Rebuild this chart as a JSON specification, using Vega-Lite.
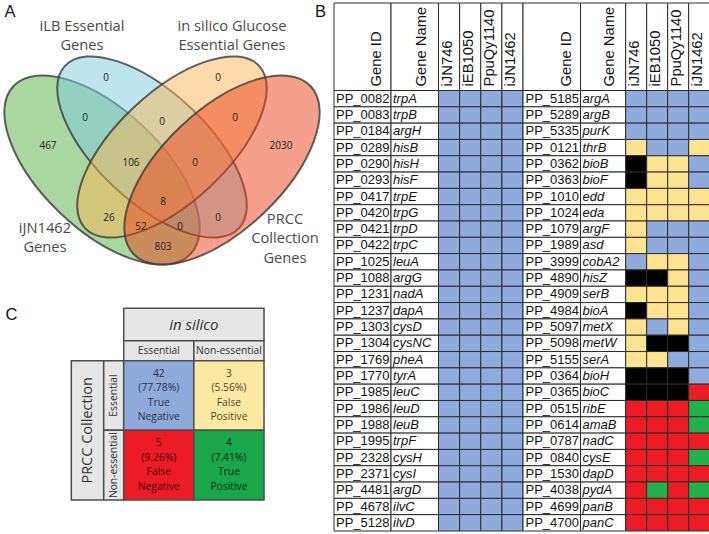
{
"$schema":"https://vega.github.io/schema/vega-lite/v6.json",
"width":709,"height":534,
"autosize":{"type":"fit","contains":"padding"},
"padding":0,
"background":"white",
"config":{"view":{"stroke":null}},
"resolve":{"scale":{"x":"independent","y":"independent","color":"independent"}},
"datasets":{
"venn_sets":[
{"set":"iJN1462 Genes","cx":99,"cy":170},
{"set":"iLB Essential Genes","cx":149,"cy":147},
{"set":"in silico Glucose Essential Genes","cx":169,"cy":147},
{"set":"PRCC Collection Genes","cx":219,"cy":170}
],
"venn_counts":[
{"region":"iJN1462 only","n":467,"lx":45,"ly":146},
{"region":"iLB only","n":0,"lx":103,"ly":78},
{"region":"in silico only","n":0,"lx":215,"ly":78},
{"region":"PRCC only","n":2030,"lx":278,"ly":146},
{"region":"iJN1462+iLB","n":0,"lx":82,"ly":118},
{"region":"iLB+in silico","n":0,"lx":159,"ly":122},
{"region":"in silico+PRCC","n":0,"lx":232,"ly":118},
{"region":"iJN1462+iLB+in silico","n":106,"lx":128,"ly":163},
{"region":"iLB+in silico+PRCC","n":0,"lx":192,"ly":163},
{"region":"all four","n":8,"lx":160,"ly":202},
{"region":"iJN1462+in silico","n":26,"lx":106,"ly":218},
{"region":"iLB+PRCC","n":0,"lx":215,"ly":218},
{"region":"iJN1462+in silico+PRCC","n":52,"lx":138,"ly":227},
{"region":"iJN1462+iLB+PRCC","n":0,"lx":177,"ly":227},
{"region":"iJN1462+PRCC","n":803,"lx":160,"ly":247}
],
"venn_labels":[
{"label":"iLB Essential\nGenes","lx":79,"ly":27},
{"label":"in silico Glucose\nEssential Genes","lx":229,"ly":27},
{"label":"iJN1462\nGenes","lx":42,"ly":229},
{"label":"PRCC\nCollection\nGenes","lx":282,"ly":220}
],
"panel_letters":[
{"letter":"A","px":1.5,"py":16.7},
{"letter":"B","px":312,"py":16.7},
{"letter":"C","px":2.5,"py":320}
],
"header_cells":[
{"half":"L","col":"Gene ID"},{"half":"L","col":"Gene Name"},
{"half":"R","col":"Gene ID"},{"half":"R","col":"Gene Name"}
],
"model_cols":[{"model":"iJN746"},{"model":"iEB1050"},{"model":"PpuQy1140"},{"model":"iJN1462"}],
"genes":[
{"side":"L","row":0,"id":"PP_0082","gene":"trpA","iJN746":"TN","iEB1050":"TN","PpuQy1140":"TN","iJN1462":"TN"},
{"side":"L","row":1,"id":"PP_0083","gene":"trpB","iJN746":"TN","iEB1050":"TN","PpuQy1140":"TN","iJN1462":"TN"},
{"side":"L","row":2,"id":"PP_0184","gene":"argH","iJN746":"TN","iEB1050":"TN","PpuQy1140":"TN","iJN1462":"TN"},
{"side":"L","row":3,"id":"PP_0289","gene":"hisB","iJN746":"TN","iEB1050":"TN","PpuQy1140":"TN","iJN1462":"TN"},
{"side":"L","row":4,"id":"PP_0290","gene":"hisH","iJN746":"TN","iEB1050":"TN","PpuQy1140":"TN","iJN1462":"TN"},
{"side":"L","row":5,"id":"PP_0293","gene":"hisF","iJN746":"TN","iEB1050":"TN","PpuQy1140":"TN","iJN1462":"TN"},
{"side":"L","row":6,"id":"PP_0417","gene":"trpE","iJN746":"TN","iEB1050":"TN","PpuQy1140":"TN","iJN1462":"TN"},
{"side":"L","row":7,"id":"PP_0420","gene":"trpG","iJN746":"TN","iEB1050":"TN","PpuQy1140":"TN","iJN1462":"TN"},
{"side":"L","row":8,"id":"PP_0421","gene":"trpD","iJN746":"TN","iEB1050":"TN","PpuQy1140":"TN","iJN1462":"TN"},
{"side":"L","row":9,"id":"PP_0422","gene":"trpC","iJN746":"TN","iEB1050":"TN","PpuQy1140":"TN","iJN1462":"TN"},
{"side":"L","row":10,"id":"PP_1025","gene":"leuA","iJN746":"TN","iEB1050":"TN","PpuQy1140":"TN","iJN1462":"TN"},
{"side":"L","row":11,"id":"PP_1088","gene":"argG","iJN746":"TN","iEB1050":"TN","PpuQy1140":"TN","iJN1462":"TN"},
{"side":"L","row":12,"id":"PP_1231","gene":"nadA","iJN746":"TN","iEB1050":"TN","PpuQy1140":"TN","iJN1462":"TN"},
{"side":"L","row":13,"id":"PP_1237","gene":"dapA","iJN746":"TN","iEB1050":"TN","PpuQy1140":"TN","iJN1462":"TN"},
{"side":"L","row":14,"id":"PP_1303","gene":"cysD","iJN746":"TN","iEB1050":"TN","PpuQy1140":"TN","iJN1462":"TN"},
{"side":"L","row":15,"id":"PP_1304","gene":"cysNC","iJN746":"TN","iEB1050":"TN","PpuQy1140":"TN","iJN1462":"TN"},
{"side":"L","row":16,"id":"PP_1769","gene":"pheA","iJN746":"TN","iEB1050":"TN","PpuQy1140":"TN","iJN1462":"TN"},
{"side":"L","row":17,"id":"PP_1770","gene":"tyrA","iJN746":"TN","iEB1050":"TN","PpuQy1140":"TN","iJN1462":"TN"},
{"side":"L","row":18,"id":"PP_1985","gene":"leuC","iJN746":"TN","iEB1050":"TN","PpuQy1140":"TN","iJN1462":"TN"},
{"side":"L","row":19,"id":"PP_1986","gene":"leuD","iJN746":"TN","iEB1050":"TN","PpuQy1140":"TN","iJN1462":"TN"},
{"side":"L","row":20,"id":"PP_1988","gene":"leuB","iJN746":"TN","iEB1050":"TN","PpuQy1140":"TN","iJN1462":"TN"},
{"side":"L","row":21,"id":"PP_1995","gene":"trpF","iJN746":"TN","iEB1050":"TN","PpuQy1140":"TN","iJN1462":"TN"},
{"side":"L","row":22,"id":"PP_2328","gene":"cysH","iJN746":"TN","iEB1050":"TN","PpuQy1140":"TN","iJN1462":"TN"},
{"side":"L","row":23,"id":"PP_2371","gene":"cysI","iJN746":"TN","iEB1050":"TN","PpuQy1140":"TN","iJN1462":"TN"},
{"side":"L","row":24,"id":"PP_4481","gene":"argD","iJN746":"TN","iEB1050":"TN","PpuQy1140":"TN","iJN1462":"TN"},
{"side":"L","row":25,"id":"PP_4678","gene":"ilvC","iJN746":"TN","iEB1050":"TN","PpuQy1140":"TN","iJN1462":"TN"},
{"side":"L","row":26,"id":"PP_5128","gene":"ilvD","iJN746":"TN","iEB1050":"TN","PpuQy1140":"TN","iJN1462":"TN"},
{"side":"R","row":0,"id":"PP_5185","gene":"argA","iJN746":"TN","iEB1050":"TN","PpuQy1140":"TN","iJN1462":"TN"},
{"side":"R","row":1,"id":"PP_5289","gene":"argB","iJN746":"TN","iEB1050":"TN","PpuQy1140":"TN","iJN1462":"TN"},
{"side":"R","row":2,"id":"PP_5335","gene":"purK","iJN746":"TN","iEB1050":"TN","PpuQy1140":"TN","iJN1462":"TN"},
{"side":"R","row":3,"id":"PP_0121","gene":"thrB","iJN746":"FP","iEB1050":"TN","PpuQy1140":"TN","iJN1462":"FP"},
{"side":"R","row":4,"id":"PP_0362","gene":"bioB","iJN746":"NA","iEB1050":"FP","PpuQy1140":"FP","iJN1462":"TN"},
{"side":"R","row":5,"id":"PP_0363","gene":"bioF","iJN746":"NA","iEB1050":"FP","PpuQy1140":"FP","iJN1462":"TN"},
{"side":"R","row":6,"id":"PP_1010","gene":"edd","iJN746":"FP","iEB1050":"FP","PpuQy1140":"FP","iJN1462":"FP"},
{"side":"R","row":7,"id":"PP_1024","gene":"eda","iJN746":"FP","iEB1050":"FP","PpuQy1140":"FP","iJN1462":"FP"},
{"side":"R","row":8,"id":"PP_1079","gene":"argF","iJN746":"FP","iEB1050":"TN","PpuQy1140":"TN","iJN1462":"TN"},
{"side":"R","row":9,"id":"PP_1989","gene":"asd","iJN746":"FP","iEB1050":"TN","PpuQy1140":"TN","iJN1462":"TN"},
{"side":"R","row":10,"id":"PP_3999","gene":"cobA2","iJN746":"TN","iEB1050":"FP","PpuQy1140":"FP","iJN1462":"TN"},
{"side":"R","row":11,"id":"PP_4890","gene":"hisZ","iJN746":"NA","iEB1050":"NA","PpuQy1140":"FP","iJN1462":"TN"},
{"side":"R","row":12,"id":"PP_4909","gene":"serB","iJN746":"FP","iEB1050":"FP","PpuQy1140":"FP","iJN1462":"TN"},
{"side":"R","row":13,"id":"PP_4984","gene":"bioA","iJN746":"NA","iEB1050":"FP","PpuQy1140":"FP","iJN1462":"TN"},
{"side":"R","row":14,"id":"PP_5097","gene":"metX","iJN746":"FP","iEB1050":"TN","PpuQy1140":"FP","iJN1462":"TN"},
{"side":"R","row":15,"id":"PP_5098","gene":"metW","iJN746":"FP","iEB1050":"NA","PpuQy1140":"NA","iJN1462":"TN"},
{"side":"R","row":16,"id":"PP_5155","gene":"serA","iJN746":"FP","iEB1050":"FP","PpuQy1140":"TN","iJN1462":"TN"},
{"side":"R","row":17,"id":"PP_0364","gene":"bioH","iJN746":"NA","iEB1050":"NA","PpuQy1140":"NA","iJN1462":"TN"},
{"side":"R","row":18,"id":"PP_0365","gene":"bioC","iJN746":"NA","iEB1050":"NA","PpuQy1140":"NA","iJN1462":"FN"},
{"side":"R","row":19,"id":"PP_0515","gene":"ribE","iJN746":"FN","iEB1050":"FN","PpuQy1140":"FN","iJN1462":"TP"},
{"side":"R","row":20,"id":"PP_0614","gene":"amaB","iJN746":"FN","iEB1050":"FN","PpuQy1140":"FN","iJN1462":"TP"},
{"side":"R","row":21,"id":"PP_0787","gene":"nadC","iJN746":"FN","iEB1050":"FN","PpuQy1140":"FN","iJN1462":"FN"},
{"side":"R","row":22,"id":"PP_0840","gene":"cysE","iJN746":"FN","iEB1050":"FN","PpuQy1140":"FN","iJN1462":"TP"},
{"side":"R","row":23,"id":"PP_1530","gene":"dapD","iJN746":"FN","iEB1050":"FN","PpuQy1140":"FN","iJN1462":"FN"},
{"side":"R","row":24,"id":"PP_4038","gene":"pydA","iJN746":"FN","iEB1050":"TP","PpuQy1140":"FN","iJN1462":"TP"},
{"side":"R","row":25,"id":"PP_4699","gene":"panB","iJN746":"FN","iEB1050":"FN","PpuQy1140":"FN","iJN1462":"FN"},
{"side":"R","row":26,"id":"PP_4700","gene":"panC","iJN746":"FN","iEB1050":"FN","PpuQy1140":"FN","iJN1462":"FN"}
],
"insilico_cols":[{"insilico":"Essential"},{"insilico":"Non-essential"}],
"prcc_rows":[{"prcc":"Essential"},{"prcc":"Non-essential"}],
"confusion":[
{"prcc":"Essential","insilico":"Essential","count":42,"pct":"(77.78%)","call":"True Negative","label":"42 (77.78%) True Negative"},
{"prcc":"Essential","insilico":"Non-essential","count":3,"pct":"(5.56%)","call":"False Positive","label":"3 (5.56%) False Positive"},
{"prcc":"Non-essential","insilico":"Essential","count":5,"pct":"(9.26%)","call":"False Negative","label":"5 (9.26%) False Negative"},
{"prcc":"Non-essential","insilico":"Non-essential","count":4,"pct":"(7.41%)","call":"True Positive","label":"4 (7.41%) True Positive"}
]
},
"layer":[
{"data":{"name":"venn_sets"},"transform":[{"filter":"datum.set === 'iJN1462 Genes'"}],
 "mark":{"type":"point","shape":"M1 0C1 0.2716 0.5523 0.4918 0 0.4918C-0.5523 0.4918 -1 0.2716 -1 0C-1 -0.2716 -0.5523 -0.4918 0 -0.4918C0.5523 -0.4918 1 -0.2716 1 0Z","size":59536,"angle":43.5,"filled":true,"fill":"#55af41","fillOpacity":0.5,"stroke":"#3a3a3a","strokeOpacity":0.8,"strokeWidth":2,"opacity":1},
 "encoding":{"x":{"field":"cx","type":"quantitative","scale":{"domain":[0,709],"range":[0,709]},"axis":null},"y":{"field":"cy","type":"quantitative","scale":{"domain":[0,534],"range":[0,534]},"axis":null}}},
{"data":{"name":"venn_sets"},"transform":[{"filter":"datum.set === 'iLB Essential Genes'"}],
 "mark":{"type":"point","shape":"M1 0C1 0.2553 0.5523 0.4622 0 0.4622C-0.5523 0.4622 -1 0.2553 -1 0C-1 -0.2553 -0.5523 -0.4622 0 -0.4622C0.5523 -0.4622 1 -0.2553 1 0Z","size":56644,"angle":43,"filled":true,"fill":"#7dc9dd","fillOpacity":0.5,"stroke":"#3a3a3a","strokeOpacity":0.8,"strokeWidth":2,"opacity":1},
 "encoding":{"x":{"field":"cx","type":"quantitative","scale":{"domain":[0,709],"range":[0,709]},"axis":null},"y":{"field":"cy","type":"quantitative","scale":{"domain":[0,534],"range":[0,534]},"axis":null}}},
{"data":{"name":"venn_sets"},"transform":[{"filter":"datum.set === 'in silico Glucose Essential Genes'"}],
 "mark":{"type":"point","shape":"M1 0C1 0.2553 0.5523 0.4622 0 0.4622C-0.5523 0.4622 -1 0.2553 -1 0C-1 -0.2553 -0.5523 -0.4622 0 -0.4622C0.5523 -0.4622 1 -0.2553 1 0Z","size":56644,"angle":-43,"filled":true,"fill":"#fbb555","fillOpacity":0.5,"stroke":"#3a3a3a","strokeOpacity":0.8,"strokeWidth":2,"opacity":1},
 "encoding":{"x":{"field":"cx","type":"quantitative","scale":{"domain":[0,709],"range":[0,709]},"axis":null},"y":{"field":"cy","type":"quantitative","scale":{"domain":[0,534],"range":[0,534]},"axis":null}}},
{"data":{"name":"venn_sets"},"transform":[{"filter":"datum.set === 'PRCC Collection Genes'"}],
 "mark":{"type":"point","shape":"M1 0C1 0.2716 0.5523 0.4918 0 0.4918C-0.5523 0.4918 -1 0.2716 -1 0C-1 -0.2716 -0.5523 -0.4918 0 -0.4918C0.5523 -0.4918 1 -0.2716 1 0Z","size":59536,"angle":-43.5,"filled":true,"fill":"#eb4119","fillOpacity":0.5,"stroke":"#3a3a3a","strokeOpacity":0.8,"strokeWidth":2,"opacity":1},
 "encoding":{"x":{"field":"cx","type":"quantitative","scale":{"domain":[0,709],"range":[0,709]},"axis":null},"y":{"field":"cy","type":"quantitative","scale":{"domain":[0,534],"range":[0,534]},"axis":null}}},
{"data":{"name":"venn_counts"},
 "mark":{"type":"text","font":"Open Sans","fontSize":10,"color":"#222222","align":"center","baseline":"middle"},
 "encoding":{"x":{"field":"lx","type":"quantitative","scale":{"domain":[0,709],"range":[0,709]},"axis":null},"y":{"field":"ly","type":"quantitative","scale":{"domain":[0,534],"range":[0,534]},"axis":null},"text":{"field":"n","type":"quantitative","format":"d"}}},
{"data":{"name":"venn_labels"},
 "mark":{"type":"text","font":"Open Sans","fontSize":14.7,"lineHeight":19.3,"lineBreak":"\n","color":"#4a4a4a","align":"center","baseline":"middle"},
 "encoding":{"x":{"field":"lx","type":"quantitative","scale":{"domain":[0,709],"range":[0,709]},"axis":null},"y":{"field":"ly","type":"quantitative","scale":{"domain":[0,534],"range":[0,534]},"axis":null},"text":{"field":"label","type":"nominal"}}},
{"data":{"name":"panel_letters"},
 "mark":{"type":"text","font":"Liberation Sans","fontSize":16.5,"color":"#111111","align":"left","baseline":"alphabetic"},
 "encoding":{"x":{"field":"px","type":"quantitative","scale":{"domain":[0,709],"range":[0,709]},"axis":null},"y":{"field":"py","type":"quantitative","scale":{"domain":[0,534],"range":[0,534]},"axis":null},"text":{"field":"letter","type":"nominal"}}},

{"data":{"name":"genes"},"transform":[{"filter":"datum.side === 'L'"}],
 "encoding":{"x":{"datum":"Gene ID","type":"nominal","scale":{"type":"band","domain":["Gene ID"],"range":[331,388],"paddingInner":0,"paddingOuter":0},"axis":null},
  "y":{"field":"row","type":"ordinal","scale":{"type":"band","domain":[0,1,2,3,4,5,6,7,8,9,10,11,12,13,14,15,16,17,18,19,20,21,22,23,24,25,26],"range":[90.5,531],"paddingInner":0,"paddingOuter":0},"axis":null}},
 "layer":[
  {"mark":{"type":"rect","fill":"white","stroke":"#2b2b2b","strokeWidth":1}},
  {"mark":{"type":"text","align":"left","baseline":"middle","dx":2,"font":"Liberation Sans","fontSize":13,"color":"#111111"},
   "encoding":{"x":{"datum":"Gene ID","type":"nominal","bandPosition":0,"scale":{"type":"band","domain":["Gene ID"],"range":[331,388],"paddingInner":0,"paddingOuter":0},"axis":null},"text":{"field":"id","type":"nominal"}}}
 ]},
{"data":{"name":"genes"},"transform":[{"filter":"datum.side === 'L'"}],
 "encoding":{"x":{"datum":"Gene Name","type":"nominal","scale":{"type":"band","domain":["Gene Name"],"range":[388,435.5],"paddingInner":0,"paddingOuter":0},"axis":null},
  "y":{"field":"row","type":"ordinal","scale":{"type":"band","domain":[0,1,2,3,4,5,6,7,8,9,10,11,12,13,14,15,16,17,18,19,20,21,22,23,24,25,26],"range":[90.5,531],"paddingInner":0,"paddingOuter":0},"axis":null}},
 "layer":[
  {"mark":{"type":"rect","fill":"white","stroke":"#2b2b2b","strokeWidth":1}},
  {"mark":{"type":"text","align":"left","baseline":"middle","dx":2,"font":"Liberation Sans","fontSize":13,"fontStyle":"italic","color":"#111111"},
   "encoding":{"x":{"datum":"Gene Name","type":"nominal","bandPosition":0,"scale":{"type":"band","domain":["Gene Name"],"range":[388,435.5],"paddingInner":0,"paddingOuter":0},"axis":null},"text":{"field":"gene","type":"nominal"}}}
 ]},
{"data":{"name":"genes"},"transform":[{"filter":"datum.side === 'L'"},{"fold":["iJN746","iEB1050","PpuQy1140","iJN1462"],"as":["model","status"]}],
 "mark":{"type":"rect","stroke":"#2b2b2b","strokeWidth":1},
 "encoding":{"x":{"field":"model","type":"nominal","scale":{"type":"band","domain":["iJN746","iEB1050","PpuQy1140","iJN1462"],"range":[435.5,520],"paddingInner":0,"paddingOuter":0},"axis":null},
  "y":{"field":"row","type":"ordinal","scale":{"type":"band","domain":[0,1,2,3,4,5,6,7,8,9,10,11,12,13,14,15,16,17,18,19,20,21,22,23,24,25,26],"range":[90.5,531],"paddingInner":0,"paddingOuter":0},"axis":null},
  "color":{"field":"status","type":"nominal","scale":{"domain":["TN","FP","FN","TP","NA"],"range":["#8faadc","#fee391","#ed1c24","#22b14c","#000000"]},"legend":null}}},

{"data":{"name":"genes"},"transform":[{"filter":"datum.side === 'R'"}],
 "encoding":{"x":{"datum":"Gene ID","type":"nominal","scale":{"type":"band","domain":["Gene ID"],"range":[520,577.5],"paddingInner":0,"paddingOuter":0},"axis":null},
  "y":{"field":"row","type":"ordinal","scale":{"type":"band","domain":[0,1,2,3,4,5,6,7,8,9,10,11,12,13,14,15,16,17,18,19,20,21,22,23,24,25,26],"range":[90.5,531],"paddingInner":0,"paddingOuter":0},"axis":null}},
 "layer":[
  {"mark":{"type":"rect","fill":"white","stroke":"#2b2b2b","strokeWidth":1}},
  {"mark":{"type":"text","align":"left","baseline":"middle","dx":2.5,"font":"Liberation Sans","fontSize":13,"color":"#111111"},
   "encoding":{"x":{"datum":"Gene ID","type":"nominal","bandPosition":0,"scale":{"type":"band","domain":["Gene ID"],"range":[520,577.5],"paddingInner":0,"paddingOuter":0},"axis":null},"text":{"field":"id","type":"nominal"}}}
 ]},
{"data":{"name":"genes"},"transform":[{"filter":"datum.side === 'R'"}],
 "encoding":{"x":{"datum":"Gene Name","type":"nominal","scale":{"type":"band","domain":["Gene Name"],"range":[577.5,622.7],"paddingInner":0,"paddingOuter":0},"axis":null},
  "y":{"field":"row","type":"ordinal","scale":{"type":"band","domain":[0,1,2,3,4,5,6,7,8,9,10,11,12,13,14,15,16,17,18,19,20,21,22,23,24,25,26],"range":[90.5,531],"paddingInner":0,"paddingOuter":0},"axis":null}},
 "layer":[
  {"mark":{"type":"rect","fill":"white","stroke":"#2b2b2b","strokeWidth":1}},
  {"mark":{"type":"text","align":"left","baseline":"middle","dx":2,"font":"Liberation Sans","fontSize":13,"fontStyle":"italic","color":"#111111"},
   "encoding":{"x":{"datum":"Gene Name","type":"nominal","bandPosition":0,"scale":{"type":"band","domain":["Gene Name"],"range":[577.5,622.7],"paddingInner":0,"paddingOuter":0},"axis":null},"text":{"field":"gene","type":"nominal"}}}
 ]},
{"data":{"name":"genes"},"transform":[{"filter":"datum.side === 'R'"},{"fold":["iJN746","iEB1050","PpuQy1140","iJN1462"],"as":["model","status"]}],
 "mark":{"type":"rect","stroke":"#2b2b2b","strokeWidth":1},
 "encoding":{"x":{"field":"model","type":"nominal","scale":{"type":"band","domain":["iJN746","iEB1050","PpuQy1140","iJN1462"],"range":[622.7,706.7],"paddingInner":0,"paddingOuter":0},"axis":null},
  "y":{"field":"row","type":"ordinal","scale":{"type":"band","domain":[0,1,2,3,4,5,6,7,8,9,10,11,12,13,14,15,16,17,18,19,20,21,22,23,24,25,26],"range":[90.5,531],"paddingInner":0,"paddingOuter":0},"axis":null},
  "color":{"field":"status","type":"nominal","scale":{"domain":["TN","FP","FN","TP","NA"],"range":["#8faadc","#fee391","#ed1c24","#22b14c","#000000"]},"legend":null}}},

{"data":{"name":"header_cells"},"transform":[{"filter":"datum.half === 'L' && datum.col === 'Gene ID'"}],
 "encoding":{"x":{"datum":"Gene ID","type":"nominal","scale":{"type":"band","domain":["Gene ID"],"range":[331,388],"paddingInner":0,"paddingOuter":0},"axis":null},
  "y":{"datum":"header","type":"nominal","scale":{"type":"band","domain":["header"],"range":[3,90.5],"paddingInner":0,"paddingOuter":0},"axis":null}},
 "layer":[
  {"mark":{"type":"rect","fill":"white","stroke":"#2b2b2b","strokeWidth":1}},
  {"mark":{"type":"text","angle":270,"align":"left","baseline":"middle","font":"Liberation Sans","fontSize":14.8,"color":"#111111"},
   "encoding":{"x":{"datum":"Gene ID","type":"nominal","bandPosition":0.76,"scale":{"type":"band","domain":["Gene ID"],"range":[331,388],"paddingInner":0,"paddingOuter":0},"axis":null},
    "y":{"datum":"header","type":"nominal","bandPosition":0.954,"scale":{"type":"band","domain":["header"],"range":[3,90.5],"paddingInner":0,"paddingOuter":0},"axis":null},
    "text":{"field":"col","type":"nominal"}}}
 ]},
{"data":{"name":"header_cells"},"transform":[{"filter":"datum.half === 'L' && datum.col === 'Gene Name'"}],
 "encoding":{"x":{"datum":"Gene Name","type":"nominal","scale":{"type":"band","domain":["Gene Name"],"range":[388,435.5],"paddingInner":0,"paddingOuter":0},"axis":null},
  "y":{"datum":"header","type":"nominal","scale":{"type":"band","domain":["header"],"range":[3,90.5],"paddingInner":0,"paddingOuter":0},"axis":null}},
 "layer":[
  {"mark":{"type":"rect","fill":"white","stroke":"#2b2b2b","strokeWidth":1}},
  {"mark":{"type":"text","angle":270,"align":"left","baseline":"middle","font":"Liberation Sans","fontSize":14.8,"color":"#111111"},
   "encoding":{"x":{"datum":"Gene Name","type":"nominal","bandPosition":0.65,"scale":{"type":"band","domain":["Gene Name"],"range":[388,435.5],"paddingInner":0,"paddingOuter":0},"axis":null},
    "y":{"datum":"header","type":"nominal","bandPosition":0.954,"scale":{"type":"band","domain":["header"],"range":[3,90.5],"paddingInner":0,"paddingOuter":0},"axis":null},
    "text":{"field":"col","type":"nominal"}}}
 ]},
{"data":{"name":"model_cols"},
 "encoding":{"x":{"field":"model","type":"nominal","scale":{"type":"band","domain":["iJN746","iEB1050","PpuQy1140","iJN1462"],"range":[435.5,520],"paddingInner":0,"paddingOuter":0},"axis":null},
  "y":{"datum":"header","type":"nominal","scale":{"type":"band","domain":["header"],"range":[3,90.5],"paddingInner":0,"paddingOuter":0},"axis":null}},
 "layer":[
  {"mark":{"type":"rect","fill":"white","stroke":"#2b2b2b","strokeWidth":1}},
  {"mark":{"type":"text","angle":270,"align":"left","baseline":"middle","font":"Liberation Sans","fontSize":14.8,"color":"#111111"},
   "encoding":{"x":{"field":"model","type":"nominal","bandPosition":0.43,"scale":{"type":"band","domain":["iJN746","iEB1050","PpuQy1140","iJN1462"],"range":[435.5,520],"paddingInner":0,"paddingOuter":0},"axis":null},
    "y":{"datum":"header","type":"nominal","bandPosition":0.954,"scale":{"type":"band","domain":["header"],"range":[3,90.5],"paddingInner":0,"paddingOuter":0},"axis":null},
    "text":{"field":"model","type":"nominal"}}}
 ]},
{"data":{"name":"header_cells"},"transform":[{"filter":"datum.half === 'R' && datum.col === 'Gene ID'"}],
 "encoding":{"x":{"datum":"Gene ID","type":"nominal","scale":{"type":"band","domain":["Gene ID"],"range":[520,577.5],"paddingInner":0,"paddingOuter":0},"axis":null},
  "y":{"datum":"header","type":"nominal","scale":{"type":"band","domain":["header"],"range":[3,90.5],"paddingInner":0,"paddingOuter":0},"axis":null}},
 "layer":[
  {"mark":{"type":"rect","fill":"white","stroke":"#2b2b2b","strokeWidth":1}},
  {"mark":{"type":"text","angle":270,"align":"left","baseline":"middle","font":"Liberation Sans","fontSize":14.8,"color":"#111111"},
   "encoding":{"x":{"datum":"Gene ID","type":"nominal","bandPosition":0.76,"scale":{"type":"band","domain":["Gene ID"],"range":[520,577.5],"paddingInner":0,"paddingOuter":0},"axis":null},
    "y":{"datum":"header","type":"nominal","bandPosition":0.954,"scale":{"type":"band","domain":["header"],"range":[3,90.5],"paddingInner":0,"paddingOuter":0},"axis":null},
    "text":{"field":"col","type":"nominal"}}}
 ]},
{"data":{"name":"header_cells"},"transform":[{"filter":"datum.half === 'R' && datum.col === 'Gene Name'"}],
 "encoding":{"x":{"datum":"Gene Name","type":"nominal","scale":{"type":"band","domain":["Gene Name"],"range":[577.5,622.7],"paddingInner":0,"paddingOuter":0},"axis":null},
  "y":{"datum":"header","type":"nominal","scale":{"type":"band","domain":["header"],"range":[3,90.5],"paddingInner":0,"paddingOuter":0},"axis":null}},
 "layer":[
  {"mark":{"type":"rect","fill":"white","stroke":"#2b2b2b","strokeWidth":1}},
  {"mark":{"type":"text","angle":270,"align":"left","baseline":"middle","font":"Liberation Sans","fontSize":14.8,"color":"#111111"},
   "encoding":{"x":{"datum":"Gene Name","type":"nominal","bandPosition":0.65,"scale":{"type":"band","domain":["Gene Name"],"range":[577.5,622.7],"paddingInner":0,"paddingOuter":0},"axis":null},
    "y":{"datum":"header","type":"nominal","bandPosition":0.954,"scale":{"type":"band","domain":["header"],"range":[3,90.5],"paddingInner":0,"paddingOuter":0},"axis":null},
    "text":{"field":"col","type":"nominal"}}}
 ]},
{"data":{"name":"model_cols"},
 "encoding":{"x":{"field":"model","type":"nominal","scale":{"type":"band","domain":["iJN746","iEB1050","PpuQy1140","iJN1462"],"range":[622.7,706.7],"paddingInner":0,"paddingOuter":0},"axis":null},
  "y":{"datum":"header","type":"nominal","scale":{"type":"band","domain":["header"],"range":[3,90.5],"paddingInner":0,"paddingOuter":0},"axis":null}},
 "layer":[
  {"mark":{"type":"rect","fill":"white","stroke":"#2b2b2b","strokeWidth":1}},
  {"mark":{"type":"text","angle":270,"align":"left","baseline":"middle","font":"Liberation Sans","fontSize":14.8,"color":"#111111"},
   "encoding":{"x":{"field":"model","type":"nominal","bandPosition":0.43,"scale":{"type":"band","domain":["iJN746","iEB1050","PpuQy1140","iJN1462"],"range":[622.7,706.7],"paddingInner":0,"paddingOuter":0},"axis":null},
    "y":{"datum":"header","type":"nominal","bandPosition":0.954,"scale":{"type":"band","domain":["header"],"range":[3,90.5],"paddingInner":0,"paddingOuter":0},"axis":null},
    "text":{"field":"model","type":"nominal"}}}
 ]},

{"data":{"values":[{"title":"in silico"}]},
 "encoding":{"x":{"datum":"in silico","type":"nominal","scale":{"type":"band","domain":["in silico"],"range":[120.7,261],"paddingInner":0,"paddingOuter":0},"axis":null},
  "y":{"datum":"in silico","type":"nominal","scale":{"type":"band","domain":["in silico"],"range":[308.3,340.7],"paddingInner":0,"paddingOuter":0},"axis":null}},
 "layer":[
  {"mark":{"type":"rect","fill":"#e6e6e6","stroke":"#4d4d4d","strokeWidth":1.5}},
  {"mark":{"type":"text","font":"Open Sans","fontSize":15,"fontStyle":"italic","color":"#333333","align":"center","baseline":"middle"},"encoding":{"text":{"field":"title","type":"nominal"}}}
 ]},
{"data":{"name":"insilico_cols"},
 "encoding":{"x":{"field":"insilico","type":"nominal","scale":{"type":"band","domain":["Essential","Non-essential"],"range":[120.7,261],"paddingInner":0,"paddingOuter":0},"axis":null},
  "y":{"datum":"sub","type":"nominal","scale":{"type":"band","domain":["sub"],"range":[340.7,360.7],"paddingInner":0,"paddingOuter":0},"axis":null}},
 "layer":[
  {"mark":{"type":"rect","fill":"#e6e6e6","stroke":"#4d4d4d","strokeWidth":1.5}},
  {"mark":{"type":"text","font":"Open Sans","fontSize":10.3,"color":"#333333","align":"center","baseline":"middle"},"encoding":{"text":{"field":"insilico","type":"nominal"}}}
 ]},
{"data":{"values":[{"title":"PRCC Collection"}]},
 "encoding":{"x":{"datum":"PRCC Collection","type":"nominal","scale":{"type":"band","domain":["PRCC Collection"],"range":[68.3,100.7],"paddingInner":0,"paddingOuter":0},"axis":null},
  "y":{"datum":"PRCC Collection","type":"nominal","scale":{"type":"band","domain":["PRCC Collection"],"range":[360.7,500],"paddingInner":0,"paddingOuter":0},"axis":null}},
 "layer":[
  {"mark":{"type":"rect","fill":"#e6e6e6","stroke":"#4d4d4d","strokeWidth":1.5}},
  {"mark":{"type":"text","font":"Open Sans","fontSize":14.5,"angle":270,"color":"#333333","align":"center","baseline":"middle"},"encoding":{"text":{"field":"title","type":"nominal"}}}
 ]},
{"data":{"name":"prcc_rows"},
 "encoding":{"x":{"datum":"label","type":"nominal","scale":{"type":"band","domain":["label"],"range":[100.7,120.7],"paddingInner":0,"paddingOuter":0},"axis":null},
  "y":{"field":"prcc","type":"nominal","scale":{"type":"band","domain":["Essential","Non-essential"],"range":[360.7,500],"paddingInner":0,"paddingOuter":0},"axis":null}},
 "layer":[
  {"mark":{"type":"rect","fill":"#e6e6e6","stroke":"#4d4d4d","strokeWidth":1.5}},
  {"mark":{"type":"text","font":"Open Sans","fontSize":10.3,"angle":270,"color":"#333333","align":"center","baseline":"middle"},"encoding":{"text":{"field":"prcc","type":"nominal"}}}
 ]},
{"data":{"name":"confusion"},
 "encoding":{"x":{"field":"insilico","type":"nominal","scale":{"type":"band","domain":["Essential","Non-essential"],"range":[120.7,261],"paddingInner":0,"paddingOuter":0},"axis":null},
  "y":{"field":"prcc","type":"nominal","scale":{"type":"band","domain":["Essential","Non-essential"],"range":[360.7,500],"paddingInner":0,"paddingOuter":0},"axis":null}},
 "layer":[
  {"mark":{"type":"rect","stroke":"#4d4d4d","strokeWidth":1.5},
   "encoding":{"color":{"field":"call","type":"nominal","scale":{"domain":["True Negative","False Positive","False Negative","True Positive"],"range":["#8eaadb","#fee9a2","#ed1c24","#1aa64a"]},"legend":null}}},
  {"mark":{"type":"text","font":"Open Sans","fontSize":10.3,"color":"#000000","opacity":0.72,"align":"center","baseline":"middle","dy":-21.75,"lineBreak":" ","lineHeight":14.5},"encoding":{"text":{"field":"label","type":"nominal"}}}
 ]}
]
}
